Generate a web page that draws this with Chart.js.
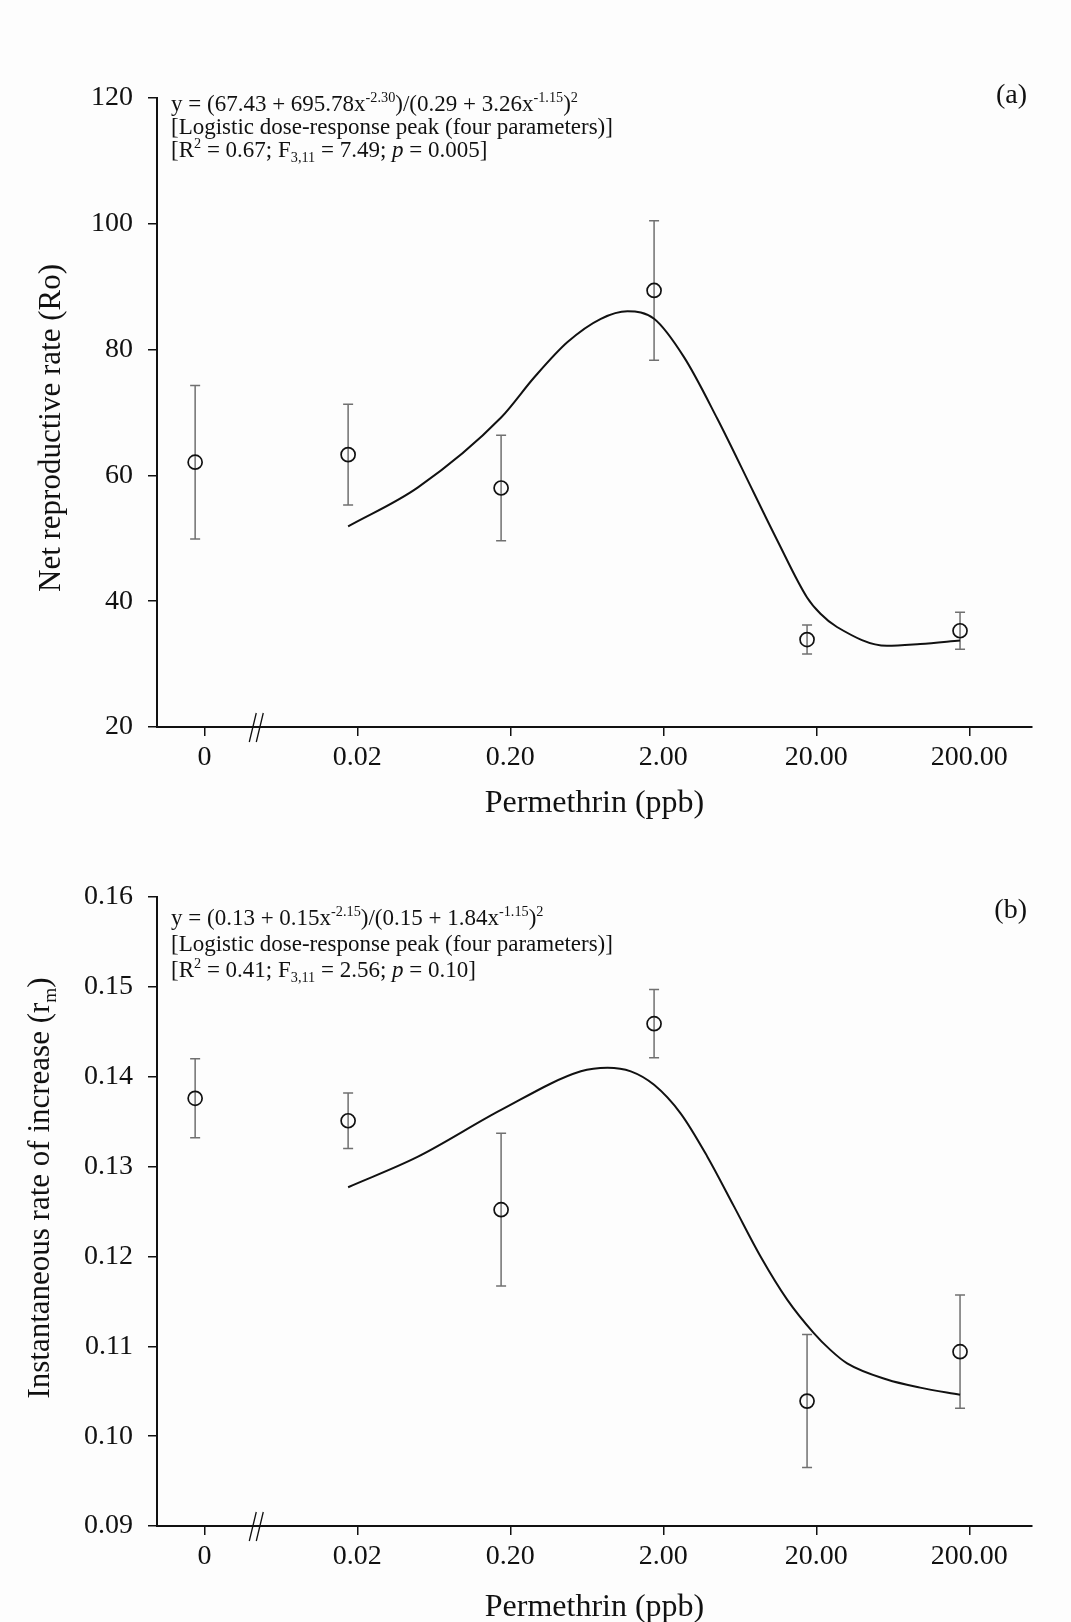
<!DOCTYPE html>
<html>
<head>
<meta charset="utf-8">
<script src="https://cdn.jsdelivr.net/npm/chart.js@4.4.0/dist/chart.umd.min.js"></script>
<style>
  html, body { margin: 0; padding: 0; background: #fdfdfd; }
  .panel { position: absolute; left: 0; width: 1071px; height: 823px; }
  #wrapA { top: 0; }
  #wrapB { top: 799px; }
</style>
</head>
<body>
<div class="panel" id="wrapA"><canvas id="chartA" width="1071" height="823"></canvas></div>
<div class="panel" id="wrapB"><canvas id="chartB" width="1071" height="823"></canvas></div>
<script>
// permethrin doses (ppb); the control (0 ppb) sits in the broken-axis slot labelled "0"
const doseX = [0.00174, 0.0174, 0.174, 1.74, 17.4, 174];
const xTickPos = [0.002, 0.02, 0.2, 2, 20, 200];
const xTickLabels = ['0', '0.02', '0.20', '2.00', '20.00', '200.00'];

// (a) net reproductive rate, mean and error
const roMean = [62.1, 63.3, 58.0, 89.4, 33.9, 35.3];
const roErr = [12.2, 8.0, 8.4, 11.1, 2.3, 2.95];
const roTicks = [20, 40, 60, 80, 100, 120];
// fitted curve
const roFitDose = [0.0174, 0.0498, 0.174, 0.287, 0.473, 0.781, 1.167, 1.74, 2.73, 4.51, 7.82, 11.1, 17.4, 21.3, 27.3, 57.9, 95.5, 174];
const roFit = [51.9, 58.1, 69.2, 75.6, 81.2, 84.9, 86.1, 84.9, 78.8, 69.0, 57.2, 49.7, 40.6, 38.0, 35.9, 32.9, 33.2, 33.75];

// (b) instantaneous rate of increase
const rmMean = [0.1376, 0.1351, 0.1252, 0.1459, 0.1039, 0.1094];
const rmErr = [0.0044, 0.0031, 0.0085, 0.0038, 0.0074, 0.0063];
const rmTicks = [0.09, 0.10, 0.11, 0.12, 0.13, 0.14, 0.15, 0.16];
const rmFitDose = [0.0174, 0.0498, 0.174, 0.578, 0.864, 1.226, 1.74, 2.60, 3.88, 5.78, 8.64, 12.9, 19.2, 24.7, 31.8, 57.9, 95.5, 174];
const rmFit = [0.1277, 0.1311, 0.1363, 0.1406, 0.1410, 0.1406, 0.1391, 0.1359, 0.1311, 0.1256, 0.1200, 0.1152, 0.1115, 0.1096, 0.1081, 0.1063, 0.1054, 0.1046];

const SERIF = '"Liberation Serif", "Times New Roman", serif';
const INK = '#111';

// rich text: [text, kind] with kind '', 'sup', 'sub', 'it'
function richWidth(ctx, parts, size) {
  let w = 0;
  parts.forEach(([t, k]) => {
    const fs = (k === 'sup' || k === 'sub') ? size * 0.62 : size;
    ctx.font = (k === 'it' ? 'italic ' : '') + fs + 'px ' + SERIF;
    w += ctx.measureText(t).width;
  });
  return w;
}
function drawRich(ctx, x, y, parts, size) {
  let cx = x;
  parts.forEach(([t, k]) => {
    let fs = size, dy = 0;
    if (k === 'sup') { fs = size * 0.62; dy = -size * 0.38; }
    if (k === 'sub') { fs = size * 0.62; dy = size * 0.22; }
    ctx.font = (k === 'it' ? 'italic ' : '') + fs + 'px ' + SERIF;
    ctx.fillText(t, cx, y + dy);
    cx += ctx.measureText(t).width;
  });
}

function makePanel(id, p) {
  const decor = {
    id: 'decor' + id,
    beforeDatasetsDraw(chart) {
      const { ctx, scales: { x, y } } = chart;
      ctx.save();
      ctx.strokeStyle = '#707070';
      ctx.lineWidth = 1.5;
      doseX.forEach((d, i) => {
        const px = x.getPixelForValue(d);
        const top = y.getPixelForValue(p.mean[i] + p.err[i]);
        const bot = y.getPixelForValue(p.mean[i] - p.err[i]);
        ctx.beginPath();
        ctx.moveTo(px, top); ctx.lineTo(px, bot);
        ctx.moveTo(px - 5, top); ctx.lineTo(px + 5, top);
        ctx.moveTo(px - 5, bot); ctx.lineTo(px + 5, bot);
        ctx.stroke();
      });
      ctx.restore();
    },
    afterDraw(chart) {
      const { ctx, chartArea: a, scales: { x } } = chart;
      ctx.save();
      // axis break
      const bx = x.getPixelForValue(0.0045);
      ctx.strokeStyle = INK;
      ctx.lineWidth = 1.3;
      ctx.beginPath();
      ctx.moveTo(bx - 9, a.bottom + 15); ctx.lineTo(bx - 2, a.bottom - 14);
      ctx.moveTo(bx - 2, a.bottom + 15); ctx.lineTo(bx + 5, a.bottom - 14);
      ctx.stroke();
      ctx.fillStyle = INK;
      // x title
      ctx.textAlign = 'center';
      ctx.textBaseline = 'middle';
      ctx.font = '32px ' + SERIF;
      ctx.fillText('Permethrin (ppb)', (a.left + a.right) / 2, a.bottom + p.xTitleGap);
      // y title
      ctx.save();
      ctx.translate(p.yTitleX, p.yTitleY);
      ctx.rotate(-Math.PI / 2);
      ctx.textAlign = 'left';
      ctx.textBaseline = 'alphabetic';
      const tw = richWidth(ctx, p.yTitle, 31);
      drawRich(ctx, -tw / 2, 10, p.yTitle, 31);
      ctx.restore();
      // equation block
      ctx.textAlign = 'left';
      ctx.textBaseline = 'alphabetic';
      p.notes.forEach((line, i) => drawRich(ctx, 171, p.noteY + i * p.noteGap, line, 23));
      // panel letter
      ctx.textAlign = 'right';
      ctx.textBaseline = 'middle';
      ctx.font = '28px ' + SERIF;
      ctx.fillText(p.letter, 1027, p.letterY);
      ctx.restore();
    }
  };

  return new Chart(document.getElementById(id), {
    type: 'scatter',
    data: {
      datasets: [
        {
          label: 'fit',
          data: p.fitDose.map((d, i) => ({ x: d, y: p.fit[i] })),
          showLine: true,
          pointRadius: 0,
          borderColor: INK,
          borderWidth: 2,
          cubicInterpolationMode: 'monotone',
          fill: false
        },
        {
          label: 'mean',
          data: doseX.map((d, i) => ({ x: d, y: p.mean[i] })),
          showLine: false,
          pointRadius: 7,
          pointBorderWidth: 1.7,
          pointBorderColor: INK,
          pointBackgroundColor: 'rgba(0,0,0,0)'
        }
      ]
    },
    options: {
      responsive: false,
      animation: false,
      layout: { padding: { top: 98, right: 39, left: 0, bottom: 0 } },
      plugins: { legend: { display: false }, tooltip: { enabled: false } },
      scales: {
        x: {
          type: 'logarithmic',
          min: 0.00098,
          max: 514,
          bounds: 'data',
          afterBuildTicks: s => { s.ticks = xTickPos.map(v => ({ value: v })); },
          afterFit: s => { s.height = 96; },
          ticks: {
            autoSkip: false,
            maxRotation: 0,
            padding: 5,
            color: INK,
            font: { family: SERIF, size: 28 },
            callback: v => xTickLabels[xTickPos.indexOf(v)]
          },
          grid: { drawOnChartArea: false, drawTicks: true, tickLength: 9, color: INK, lineWidth: 1.5 },
          border: { display: true, color: INK, width: 2 }
        },
        y: {
          min: p.ticks[0],
          max: p.ticks[p.ticks.length - 1],
          afterBuildTicks: s => { s.ticks = p.ticks.map(v => ({ value: v })); },
          afterFit: s => { s.width = 157; },
          ticks: {
            padding: 15,
            color: INK,
            font: { family: SERIF, size: 28 },
            callback: v => v.toFixed(p.decimals)
          },
          grid: { drawOnChartArea: false, drawTicks: true, tickLength: 9, color: INK, lineWidth: 1.5 },
          border: { display: true, color: INK, width: 2 }
        }
      }
    },
    plugins: [decor]
  });
}

makePanel('chartA', {
  mean: roMean, err: roErr, ticks: roTicks, decimals: 0,
  fitDose: roFitDose, fit: roFit,
  yTitle: [['Net reproductive rate (Ro)', '']],
  yTitleX: 50, yTitleY: 428,
  xTitleGap: 77,
  letter: '(a)', letterY: 96,
  noteY: 111, noteGap: 23,
  notes: [
    [['y = (67.43 + 695.78x', ''], ['-2.30', 'sup'], [')/(0.29 + 3.26x', ''], ['-1.15', 'sup'], [')', ''], ['2', 'sup']],
    [['[Logistic dose-response peak (four parameters)]', '']],
    [['[R', ''], ['2', 'sup'], [' = 0.67; F', ''], ['3,11', 'sub'], [' = 7.49; ', ''], ['p', 'it'], [' = 0.005]', '']]
  ]
});

makePanel('chartB', {
  mean: rmMean, err: rmErr, ticks: rmTicks, decimals: 2,
  fitDose: rmFitDose, fit: rmFit,
  yTitle: [['Instantaneous rate of increase (r', ''], ['m', 'sub'], [')', '']],
  yTitleX: 39, yTitleY: 389,
  xTitleGap: 82,
  letter: '(b)', letterY: 112,
  noteY: 126, noteGap: 26,
  notes: [
    [['y = (0.13 + 0.15x', ''], ['-2.15', 'sup'], [')/(0.15 + 1.84x', ''], ['-1.15', 'sup'], [')', ''], ['2', 'sup']],
    [['[Logistic dose-response peak (four parameters)]', '']],
    [['[R', ''], ['2', 'sup'], [' = 0.41; F', ''], ['3,11', 'sub'], [' = 2.56; ', ''], ['p', 'it'], [' = 0.10]', '']]
  ]
});
</script>
</body>
</html>
